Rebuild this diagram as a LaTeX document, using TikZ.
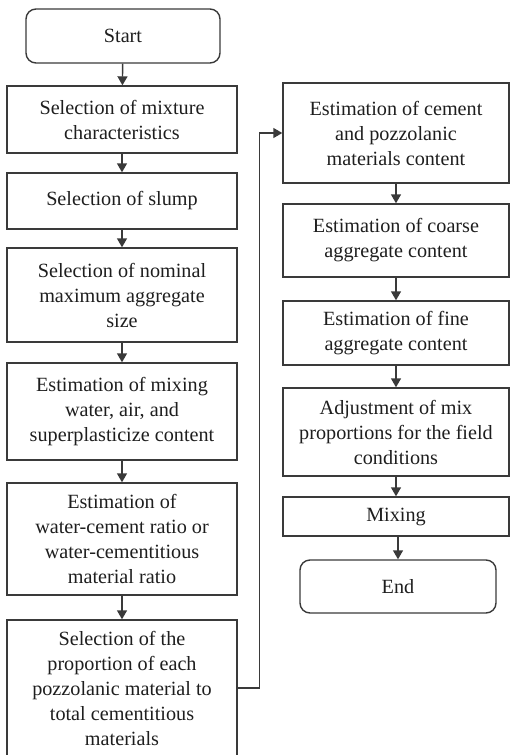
\documentclass[tikz,border=0pt]{standalone}
\usepackage{fontspec}
\setmainfont{Liberation Serif}
\usepackage{xcolor}
\usepackage{tikz}
\usetikzlibrary{arrows.meta}

\definecolor{linegray}{HTML}{3A3A3A}
\definecolor{textgray}{HTML}{1E1E1E}

\begin{document}
\begin{tikzpicture}[x=1pt, y=-1pt,
                box/.style={draw=linegray, line width=1.4pt, text=textgray, align=center,
                    inner sep=0pt, font=\fontsize{20.2}{25}\selectfont},
                leftbox/.style={box, minimum width=230pt},
                rightbox/.style={box, minimum width=226pt},
                term/.style={box, rounded corners=10pt},
                arr/.style={draw=linegray, line width=1.4pt, -{Triangle[width=10pt,length=9pt]}}]
                \useasboundingbox (0,0) rectangle (510,755);
                % left column
                \node [term, minimum width=194pt, minimum height=54pt] (start) at (123,36) {Start};
                \node [leftbox, minimum height=67pt] (mixchar) at (122,119.5) {Selection of mixture\\characteristics};
                \node [leftbox, minimum height=56pt] (slump) at (122,201) {Selection of slump};
                \node [leftbox, minimum height=94pt] (aggsize) at (122,295) {Selection of nominal\\maximum aggregate\\size};
                \node [leftbox, minimum height=97pt] (water) at (122,411.5) {Estimation of mixing\\water, air, and\\superplasticize content};
                \node [leftbox, minimum height=112pt] (wcratio) at (122,539) {Estimation of\\water-cement ratio or\\water-cementitious\\material ratio};
                \node [leftbox, minimum height=136pt] (pozzprop) at (122,688) {Selection of the\\proportion of each\\pozzolanic material to\\total cementitious\\materials};
                % right column
                \node [rightbox, minimum height=100pt] (cement) at (396,133) {Estimation of cement\\and pozzolanic\\materials content};
                \node [rightbox, minimum height=73pt] (coarse) at (396,240.5) {Estimation of coarse\\aggregate content};
                \node [rightbox, minimum height=64pt] (fine) at (396,333) {Estimation of fine\\aggregate content};
                \node [rightbox, minimum height=88pt] (adjust) at (396,432) {Adjustment of mix\\proportions for the field\\conditions};
                \node [rightbox, minimum height=39pt] (mixing) at (396,516.5) {Mixing};
                \node [term, minimum width=196pt, minimum height=53pt] (finish) at (398,586.5) {End};
                % arrows
                \draw [arr] (start) -- (mixchar);
                \draw [arr] (mixchar) -- (slump);
                \draw [arr] (slump) -- (aggsize);
                \draw [arr] (aggsize) -- (water);
                \draw [arr] (water) -- (wcratio);
                \draw [arr] (wcratio) -- (pozzprop);
                \draw [arr] (pozzprop.east) -- ++(22,0) |- (cement.west);
                \draw [arr] (cement) -- (coarse);
                \draw [arr] (coarse) -- (fine);
                \draw [arr] (fine) -- (adjust);
                \draw [arr] (adjust) -- (mixing);
                \draw [arr] (mixing.south -| finish) -- (finish);
            \end{tikzpicture}
\end{document}
